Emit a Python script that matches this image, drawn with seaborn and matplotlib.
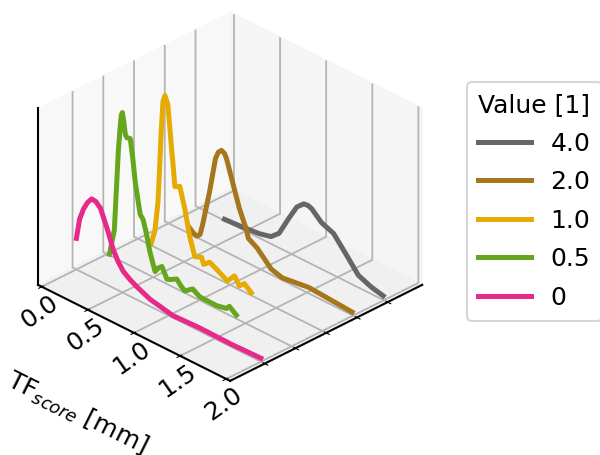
import seaborn as sns
import matplotlib
matplotlib.use("Agg")
import matplotlib.pyplot as plt

# curves, (x in mm, z relative to the box height)
x_0 = [0.0, 0.035, 0.078, 0.12, 0.165, 0.21, 0.261, 0.337, 0.40, 0.45, 0.508, 0.58, 0.66, 0.798,
       1.044, 1.337, 1.687, 2.0]
z_0 = [0.176, 0.295, 0.364, 0.41, 0.443, 0.44, 0.415, 0.313, 0.216, 0.165, 0.122, 0.095, 0.072, 0.04,
       0.012, 0.018, 0.015, 0.02]

x_05 = [0.025, 0.078, 0.099, 0.121, 0.14, 0.154, 0.165, 0.18, 0.197, 0.216, 0.251, 0.277, 0.304, 0.358,
        0.39, 0.423, 0.465, 0.52, 0.553, 0.594, 0.648, 0.686, 0.755, 0.798, 0.842, 0.928, 1.003, 1.187,
        1.294, 1.325, 1.401]
z_05 = [0.006, 0.157, 0.38, 0.611, 0.75, 0.83, 0.845, 0.80, 0.728, 0.715, 0.72, 0.62, 0.49, 0.318,
        0.298, 0.233, 0.131, 0.037, 0.065, 0.085, 0.027, 0.035, 0.056, 0.03, 0.011, 0.045, 0.02, 0.018,
        0.03, 0.05, 0.02]

x_1 = [0.143, 0.186, 0.218, 0.235, 0.251, 0.272, 0.294, 0.325, 0.368, 0.385, 0.401, 0.455, 0.508, 0.562,
       0.617, 0.691, 0.713, 0.777, 0.853, 0.971, 1.047, 1.10, 1.154, 1.23]
z_1 = [0.007, 0.098, 0.266, 0.45, 0.655, 0.848, 0.888, 0.845, 0.59, 0.5, 0.4, 0.415, 0.304, 0.16,
       0.06, 0.075, 0.041, 0.07, 0.05, 0.014, 0.063, 0.02, 0.047, 0.015]

x_2 = [0.229, 0.27, 0.304, 0.34, 0.368, 0.444, 0.508, 0.54, 0.573, 0.605, 0.627, 0.691, 0.767, 0.842,
       0.864, 0.96, 1.111, 1.23, 1.52, 1.99]
z_2 = [0.033, 0.015, 0.007, 0.025, 0.087, 0.295, 0.5, 0.545, 0.563, 0.555, 0.532, 0.419, 0.285, 0.187,
       0.141, 0.111, 0.032, 0.013, 0.034, 0.017]

x_4 = [0.272, 0.465, 0.648, 0.777, 0.864, 0.971, 1.057, 1.132, 1.18, 1.218, 1.325, 1.455, 1.584,
       1.724, 1.864, 1.993]
z_4 = [0.007, 0.014, 0.024, 0.041, 0.082, 0.196, 0.282, 0.319, 0.322, 0.314, 0.263, 0.236, 0.157,
       0.069, 0.039, 0.023]

labels = ["0", "0.5", "1.0", "2.0", "4.0"]
xs = [x_0, x_05, x_1, x_2, x_4]
zs = [z_0, z_05, z_1, z_2, z_4]
x_ticks = [0.0, 0.5, 1.0, 1.5, 2.0]

dark2 = sns.color_palette("Dark2", 8)
colors = [dark2[3], dark2[4], dark2[5], dark2[6], dark2[7]]

plt.rcParams["font.size"] = 18

fig = plt.figure(figsize=(6, 4.55), dpi=100)
ax = fig.add_axes([-0.016, 0.0914, 0.78, 0.928], projection="3d", proj_type="ortho")
ax.view_init(elev=30, azim=-45)

# back to front so that the 0 curve ends on top
for i in reversed(range(len(labels))):
    ax.plot(xs[i], [i] * len(xs[i]), zs[i], color=colors[i], lw=3.6, label=labels[i],
            solid_joinstyle="round")

ax.set_xlim(0, 2, view_margin=1 / 48)
ax.set_ylim(-1, 5, view_margin=1 / 48)
ax.set_zlim(0, 1, view_margin=0)

ax.set_xticks(x_ticks)
ax.set_xticklabels([f"{v:.1f}" for v in x_ticks], rotation=35)
ax.set_yticks(range(len(labels)))
ax.set_yticklabels([])
ax.set_zticks([])
ax.tick_params(axis="x", pad=-6)
ax.set_xlabel("TF$_{score}$ [mm]", labelpad=26)

# z line on the left corner
ax.zaxis.set_ticks_position("lower")
for axis in (ax.xaxis, ax.yaxis, ax.zaxis):
    axis.line.set_linewidth(1.5)
    axis._axinfo["grid"]["linewidth"] = 1.3
    axis._axinfo["grid"]["color"] = "#b4b4b4"
    axis.pane.set_edgecolor("#ececec")

ax.xaxis.set_pane_color("#f8f8f8")
ax.yaxis.set_pane_color("#f5f5f5")
ax.zaxis.set_pane_color("#f0f0f0")

leg = fig.legend(title="Value [1]", loc="upper left", bbox_to_anchor=(0.778, 0.82),
                 handlelength=2.1, labelspacing=0.58, borderpad=0.45,
                 fontsize=18, title_fontsize=18, borderaxespad=0)
leg.get_frame().set_linewidth(1.5)

fig.savefig("out.png", dpi=100)
